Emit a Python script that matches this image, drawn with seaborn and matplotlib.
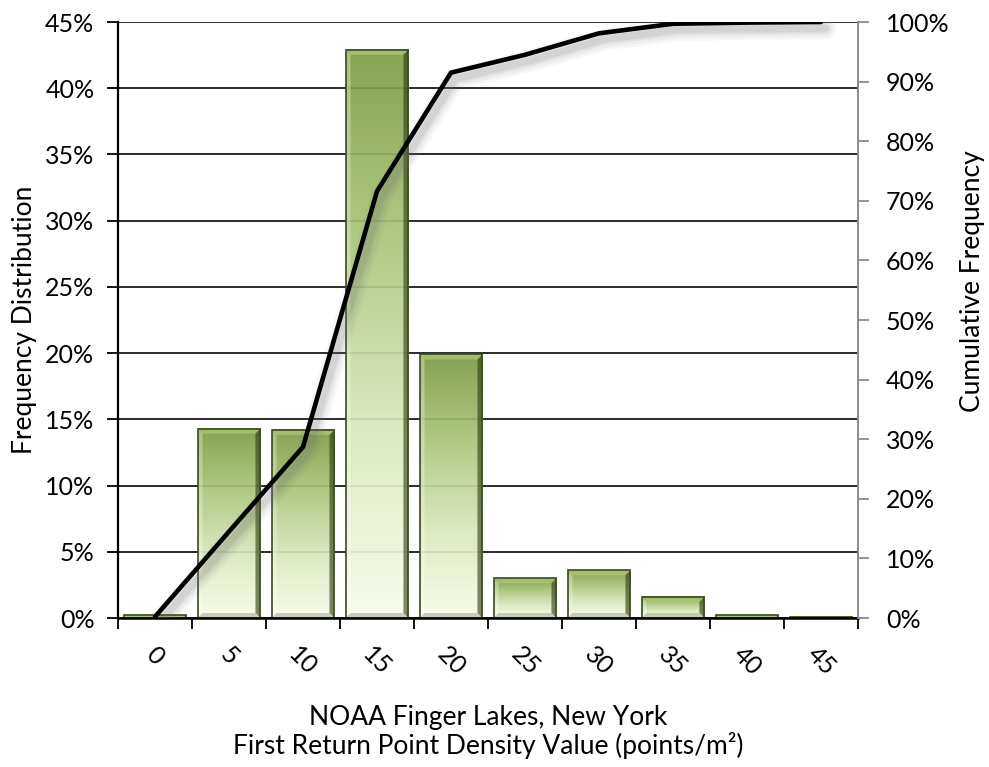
import numpy as np
import pandas as pd
import matplotlib
matplotlib.use("Agg")
import matplotlib.pyplot as plt
import matplotlib.patheffects as pe
from matplotlib.colors import LinearSegmentedColormap
from matplotlib.patches import Polygon
from matplotlib.ticker import PercentFormatter, FixedLocator
import seaborn as sns

# Point density bins (points/m²) and share of cells in each bin (%)
density_bins = ["0", "5", "10", "15", "20", "25", "30", "35", "40", "45"]
frequency_pct = [0.2, 14.3, 14.2, 42.9, 19.9, 3.0, 3.6, 1.6, 0.2, 0.1]

freq_axis_ticks = [0, 5, 10, 15, 20, 25, 30, 35, 40, 45]
cum_axis_ticks = [0, 10, 20, 30, 40, 50, 60, 70, 80, 90, 100]

x_title = "NOAA Finger Lakes, New York\nFirst Return Point Density Value (points/m²)"
left_title = "Frequency Distribution"
right_title = "Cumulative Frequency"

df = pd.DataFrame({"bin": density_bins, "freq": frequency_pct})
df["pos"] = np.arange(len(df))
df["cum"] = np.cumsum(df["freq"])

sns.set_style("white")
plt.rcParams["font.family"] = ["Lato", "DejaVu Sans"]
plt.rcParams["text.color"] = "black"
plt.rcParams["axes.labelcolor"] = "black"
plt.rcParams["xtick.color"] = "black"
plt.rcParams["ytick.color"] = "black"
FS_TICK = 18
FS_TITLE = 19

fig = plt.figure(figsize=(9.89, 7.67), dpi=100)
ax = fig.add_axes([118 / 989, 1 - 618 / 767, 740 / 989, 596 / 767])

# bars drawn by seaborn, then dressed with a vertical gradient and bevel
sns.barplot(data=df, x="bin", y="freq", ax=ax, color="#7f9d45", width=0.85,
            edgecolor="#3a4a1c", linewidth=1.2, zorder=3)

ax.set_xlim(-0.5, len(df) - 0.5)
ax.set_ylim(0, 45)

grad_cmap = LinearSegmentedColormap.from_list(
    "olive_fade", ["#f8fcec", "#d9e8bb", "#aac57a", "#7c9a43"])
grad = np.linspace(0, 1, 256).reshape(-1, 1)

px_x = 1 / 74.0      # data units per pixel (x)
px_y = 45 / 596.0    # data units per pixel (y)
for bar in ax.patches:
    x0, y0 = bar.get_x(), bar.get_y()
    w, h = bar.get_width(), bar.get_height()
    x1, y1 = x0 + w, y0 + h
    bar.set_facecolor("none")
    ax.imshow(grad, cmap=grad_cmap, aspect="auto", origin="lower",
              extent=[x0, x1, y0, y1], zorder=2.5, alpha=0.92,
              interpolation="bilinear")
    s = min(1.0, h / (2 * 5 * px_y))
    bx, by = 5 * px_x * s, 5 * px_y * s
    ix0, ix1, iy0, iy1 = x0 + bx, x1 - bx, y0 + by, y1 - by
    bevels = [
        ([(x0, y1), (x1, y1), (ix1, iy1), (ix0, iy1)], "#a9c274", 0.85),
        ([(x0, y0), (x0, y1), (ix0, iy1), (ix0, iy0)], "#ffffff", 0.30),
        ([(x1, y0), (x1, y1), (ix1, iy1), (ix1, iy0)], "#2c3912", 0.60),
        ([(x0, y0), (x1, y0), (ix1, iy0), (ix0, iy0)], "#8e9880", 0.45),
    ]
    for pts, col, a in bevels:
        ax.add_patch(Polygon(pts, closed=True, facecolor=col, alpha=a,
                             edgecolor="none", zorder=2.7))

ax.set_xlim(-0.5, len(df) - 0.5)
ax.set_ylim(0, 45)

# horizontal grid at every 5 %
ax.yaxis.set_major_locator(FixedLocator(freq_axis_ticks))
ax.yaxis.set_major_formatter(PercentFormatter(decimals=0))
ax.grid(axis="y", color="#1a1a1a", linewidth=1.3, zorder=1)
ax.set_axisbelow(True)
ax.grid(axis="x", visible=False)

# category labels at centres, tick marks on the bin boundaries
ax.set_xticks(df["pos"])
ax.set_xticklabels(density_bins, rotation=-45, ha="center", va="top",
                   fontsize=FS_TICK)
ax.xaxis.set_minor_locator(FixedLocator(np.arange(-0.5, len(df), 1.0)))
ax.tick_params(axis="x", which="major", length=0, pad=18)
ax.tick_params(axis="x", which="minor", length=8, width=1.3,
               color="black", direction="out", bottom=True)
ax.tick_params(axis="y", length=8, width=1.3, color="black",
               direction="out", labelsize=FS_TICK, pad=9, left=True)

for side in ["top", "right"]:
    ax.spines[side].set_visible(False)
ax.spines["left"].set_color("black")
ax.spines["left"].set_linewidth(1.6)
ax.spines["bottom"].set_color("black")
ax.spines["bottom"].set_linewidth(1.8)
ax.spines["bottom"].set_zorder(4)

ax.set_xlabel(x_title, fontsize=FS_TITLE, labelpad=18, linespacing=1.1)
ax.set_ylabel(left_title, fontsize=FS_TITLE)
ax.yaxis.set_label_coords(-(118 - 37) / 740, 0.5)

# cumulative curve on the secondary axis
ax2 = ax.twinx()
shadow = [pe.SimpleLineShadow(offset=(3, -4.5), shadow_color="#6e6e6e",
                              alpha=a, linewidth=lw)
          for lw, a in [(16, 0.05), (12, 0.07), (8, 0.09), (5, 0.12)]]
sns.lineplot(data=df, x="pos", y="cum", ax=ax2, color="black",
             linewidth=3.3, zorder=5, sort=False,
             path_effects=shadow + [pe.Normal()])
ax2.set_ylim(0, 100)
ax2.set_xlim(-0.5, len(df) - 0.5)
ax2.yaxis.set_major_locator(FixedLocator(cum_axis_ticks))
ax2.yaxis.set_major_formatter(PercentFormatter(decimals=0))
ax2.tick_params(axis="y", length=8, width=1.3, color="#8c8c8c",
                labelcolor="black", direction="out", labelsize=FS_TICK,
                pad=12, right=True)
ax2.grid(False)
for side in ["top", "left", "bottom"]:
    ax2.spines[side].set_visible(False)
ax2.spines["right"].set_color("#8c8c8c")
ax2.spines["right"].set_linewidth(1.4)
ax2.set_ylabel(right_title, fontsize=FS_TITLE)
ax2.yaxis.set_label_coords((960 - 118) / 740, 1 - (281 - 22) / 596)
ax2.set_xlabel("")

fig.savefig("out.png", dpi=100, facecolor="white")
